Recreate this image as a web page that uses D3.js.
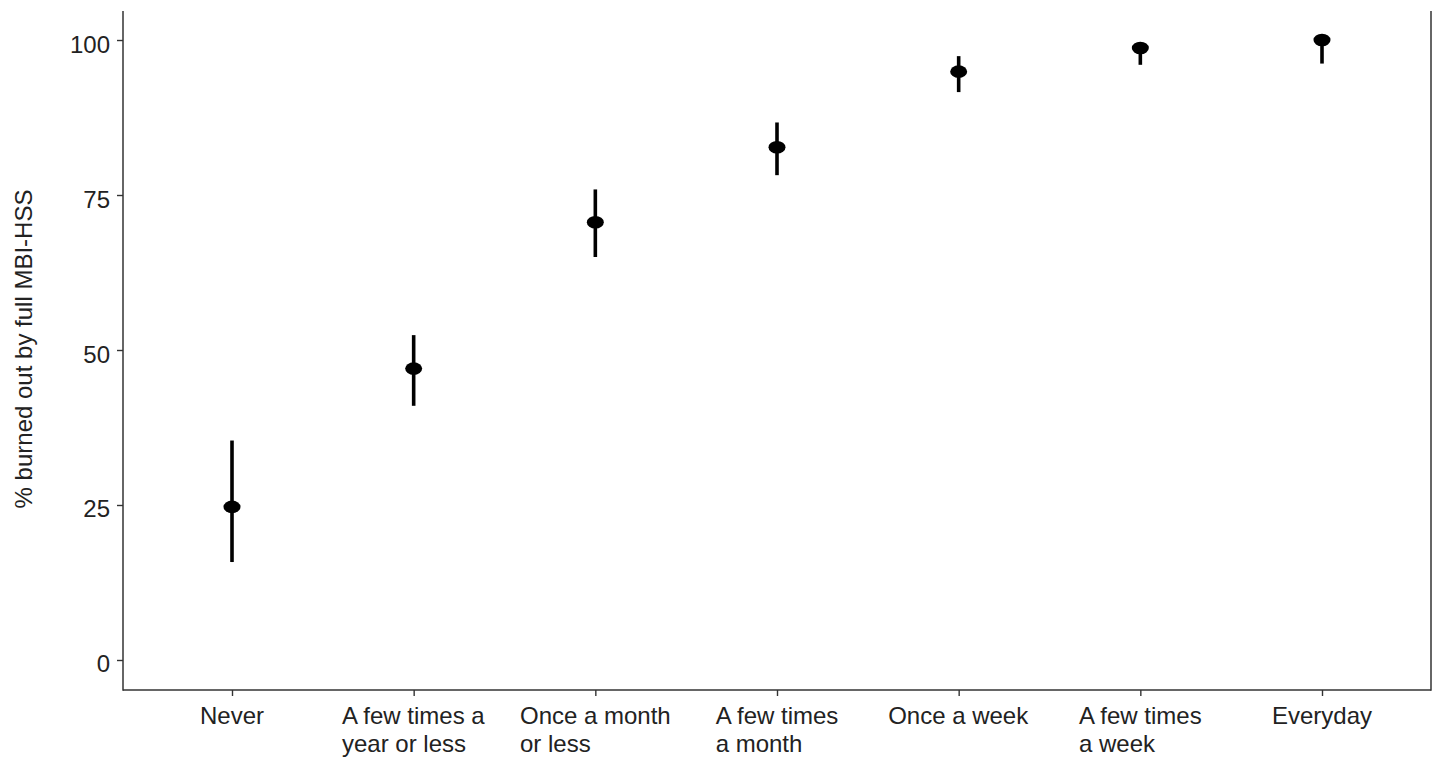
<!DOCTYPE html>
<html>
<head>
<meta charset="utf-8">
<script src="https://cdn.jsdelivr.net/npm/d3@7"></script>
<style>
  html, body { margin: 0; padding: 0; background: #fff; }
  svg { display: block; }
  text { font-family: "Liberation Sans", Arial, Helvetica, sans-serif; }
</style>
</head>
<body>
<svg id="chart" width="1437" height="759"></svg>
<script>
const categories = [
  "Never",
  "A few times a\nyear or less",
  "Once a month\nor less",
  "A few times\na month",
  "Once a week",
  "A few times\na week",
  "Everyday"
];
const estimates = [24.7, 47.0, 70.6, 82.7, 94.9, 98.7, 100.0];
const lowerCI   = [15.8, 41.0, 65.0, 78.2, 91.6, 96.0, 96.2];
const upperCI   = [35.4, 52.4, 75.9, 86.7, 97.4, 99.6, 100.0];
const yTicks = [0, 25, 50, 75, 100];
const yTitle = "% burned out by full MBI-HSS";

const data = categories.map((c, i) => ({ cat: c, est: estimates[i], lo: lowerCI[i], hi: upperCI[i] }));

const svg = d3.select("#chart");
const mLeft = 123, mRight = 1431, mTop = 11, mBottom = 690;
const fontSize = 24;

const x = d3.scalePoint().domain(categories).range([mLeft, mRight]).padding(0.6);
const y = d3.scaleLinear().domain([-4.84, 104.68]).range([mBottom, mTop]);

const axisColor = "#333333";
const textColor = "#222222";

// Y axis
const yAxis = svg.append("g").attr("transform", `translate(${mLeft},0)`)
  .call(d3.axisLeft(y).tickValues(yTicks).tickSize(6).tickPadding(7));
yAxis.select(".domain").remove();
yAxis.selectAll(".tick line").attr("stroke", axisColor).attr("stroke-width", 1.4);
yAxis.selectAll(".tick text").attr("fill", textColor).attr("font-size", fontSize)
  .attr("dy", "0.5em")
  .attr("font-family", "'Liberation Sans', Arial, sans-serif");

// X axis
const xAxis = svg.append("g").attr("transform", `translate(0,${mBottom})`)
  .call(d3.axisBottom(x).tickSize(6).tickFormat(""));
xAxis.select(".domain").remove();
xAxis.selectAll(".tick line").attr("stroke", axisColor).attr("stroke-width", 1.4);

// X labels (multi-line, left-aligned block centred on tick)
categories.forEach(c => {
  const lines = c.split("\n");
  const g = svg.append("g").attr("transform", `translate(${x(c)},0)`);
  const t = g.append("text").attr("fill", textColor).attr("font-size", fontSize)
    .attr("text-anchor", "start");
  lines.forEach((ln, j) => {
    t.append("tspan").attr("x", 0).attr("y", 724 + j * 28).text(ln);
  });
  const w = t.node().getBBox().width;
  t.selectAll("tspan").attr("x", -w / 2);
});

// Axis lines: left, bottom, right
svg.append("line").attr("x1", mLeft).attr("x2", mLeft).attr("y1", mTop).attr("y2", mBottom + 0.7)
  .attr("stroke", axisColor).attr("stroke-width", 1.5);
svg.append("line").attr("x1", mLeft).attr("x2", mRight).attr("y1", mBottom).attr("y2", mBottom)
  .attr("stroke", axisColor).attr("stroke-width", 1.5);
svg.append("line").attr("x1", mRight).attr("x2", mRight).attr("y1", mTop).attr("y2", mBottom + 0.7)
  .attr("stroke", axisColor).attr("stroke-width", 1.5);

// Y title
svg.append("text")
  .attr("transform", `translate(31.5,349) rotate(-90)`)
  .attr("text-anchor", "middle").attr("fill", textColor).attr("font-size", fontSize)
  .text(yTitle);

// Error bars
svg.append("g").selectAll("line").data(data).join("line")
  .attr("x1", d => x(d.cat)).attr("x2", d => x(d.cat))
  .attr("y1", d => y(d.lo)).attr("y2", d => y(d.hi))
  .attr("stroke", "#000").attr("stroke-width", 3.6);

// Points
svg.append("g").selectAll("ellipse").data(data).join("ellipse")
  .attr("cx", d => x(d.cat)).attr("cy", d => y(d.est))
  .attr("rx", 8.5).attr("ry", 6.3).attr("fill", "#000");
</script>
</body>
</html>
